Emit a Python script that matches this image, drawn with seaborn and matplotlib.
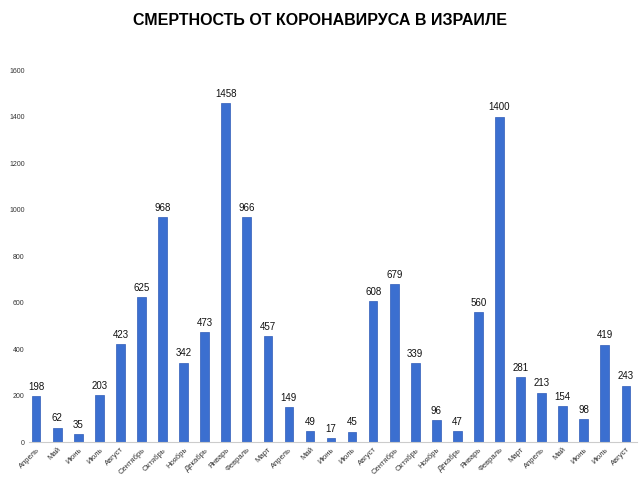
import pandas as pd
import seaborn as sns
import matplotlib.pyplot as plt

months = ['Апрель', 'Май', 'Июнь', 'Июль', 'Август', 'Сентябрь', 'Октябрь',
          'Ноябрь', 'Декабрь', 'Январь', 'Февраль', 'Март',
          'Апрель', 'Май', 'Июнь', 'Июль', 'Август', 'Сентябрь', 'Октябрь',
          'Ноябрь', 'Декабрь', 'Январь', 'Февраль', 'Март',
          'Апрель', 'Май', 'Июнь', 'Июль', 'Август']
deaths = [198, 62, 35, 203, 423, 625, 968, 342, 473, 1458, 966, 457,
          149, 49, 17, 45, 608, 679, 339, 96, 47, 560, 1400, 281,
          213, 154, 98, 419, 243]

df = pd.DataFrame({'idx': range(len(months)), 'deaths': deaths})

sns.set_style('white')
plt.rcParams['font.family'] = ['Liberation Sans', 'DejaVu Sans']

fig = plt.figure(figsize=(6.4, 4.8), dpi=100)
ax = fig.add_axes([0.045, 0.079, 0.951, 0.775])

sns.barplot(data=df, x='idx', y='deaths', color='#3b6fd0', saturation=1,
            width=0.41, edgecolor='#2f5cb8', linewidth=0.5, ax=ax)

for i, v in enumerate(deaths):
    ax.text(i, v + 18, str(v), ha='center', va='bottom', fontsize=7, color='#111111')

ax.set_ylim(0, 1600)
ax.set_yticks(range(0, 1601, 200))
ax.set_yticklabels([str(t) for t in range(0, 1601, 200)], fontsize=5, color='#333333')
ax.set_xticks(range(len(months)))
ax.set_xticklabels(months, rotation=45, ha='right', rotation_mode='anchor',
                   fontsize=5.5, color='#333333')
ax.set_xlim(-0.35, len(months) - 0.45)
ax.set_xlabel('')
ax.set_ylabel('')
ax.tick_params(axis='both', length=0, pad=3)

for s in ['top', 'right', 'left']:
    ax.spines[s].set_visible(False)
ax.spines['bottom'].set_color('#cccccc')
ax.spines['bottom'].set_linewidth(0.8)

fig.suptitle('СМЕРТНОСТЬ ОТ КОРОНАВИРУСА В ИЗРАИЛЕ', y=0.958, va='center',
             fontsize=11.5, fontweight='bold', color='black')

fig.savefig('out.png', dpi=100)
